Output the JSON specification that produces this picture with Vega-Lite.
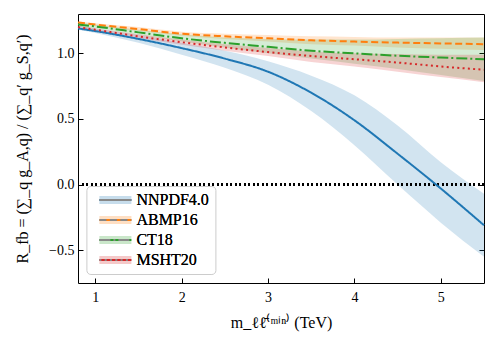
{
  "$schema": "https://vega.github.io/schema/vega-lite/v6.json",
  "width": 406,
  "height": 269,
  "autosize": {"type": "none"},
  "padding": {"left": 78, "top": 14, "right": 14, "bottom": 66},
  "config": {
    "font": "Liberation Serif, serif",
    "view": {"stroke": "black", "strokeWidth": 1},
    "axis": {
      "domain": false,
      "grid": false,
      "tickColor": "black",
      "tickSize": -5,
      "tickWidth": 1,
      "labelFont": "Liberation Serif, serif",
      "labelFontSize": 14,
      "labelColor": "black",
      "titleFont": "Liberation Serif, serif",
      "titleFontSize": 16,
      "titleFontWeight": "normal",
      "titleColor": "black"
    },
    "legend": {"labelFont": "Liberation Serif, serif", "labelFontWeight": "normal"}
  },
  "data": {
    "values": [
      {"pdf": "NNPDF4.0", "x": 0.8, "y": 1.19, "lo": 1.18, "hi": 1.21},
      {"pdf": "NNPDF4.0", "x": 1.0, "y": 1.17, "lo": 1.155, "hi": 1.19},
      {"pdf": "NNPDF4.0", "x": 1.5, "y": 1.11, "lo": 1.08, "hi": 1.14},
      {"pdf": "NNPDF4.0", "x": 2.0, "y": 1.04, "lo": 0.99, "hi": 1.08},
      {"pdf": "NNPDF4.0", "x": 2.5, "y": 0.96, "lo": 0.89, "hi": 1.02},
      {"pdf": "NNPDF4.0", "x": 3.0, "y": 0.86, "lo": 0.76, "hi": 0.94},
      {"pdf": "NNPDF4.0", "x": 3.5, "y": 0.70, "lo": 0.56, "hi": 0.83},
      {"pdf": "NNPDF4.0", "x": 4.0, "y": 0.49, "lo": 0.30, "hi": 0.68},
      {"pdf": "NNPDF4.0", "x": 4.5, "y": 0.235, "lo": 0.0, "hi": 0.45},
      {"pdf": "NNPDF4.0", "x": 5.0, "y": -0.03, "lo": -0.29, "hi": 0.17},
      {"pdf": "NNPDF4.0", "x": 5.5, "y": -0.31, "lo": -0.55, "hi": -0.07},
      {"pdf": "ABMP16", "x": 0.8, "y": 1.235, "lo": 1.225, "hi": 1.245},
      {"pdf": "ABMP16", "x": 1.0, "y": 1.22, "lo": 1.21, "hi": 1.23},
      {"pdf": "ABMP16", "x": 1.5, "y": 1.185, "lo": 1.17, "hi": 1.2},
      {"pdf": "ABMP16", "x": 2.0, "y": 1.15, "lo": 1.135, "hi": 1.165},
      {"pdf": "ABMP16", "x": 2.5, "y": 1.13, "lo": 1.11, "hi": 1.15},
      {"pdf": "ABMP16", "x": 3.0, "y": 1.115, "lo": 1.09, "hi": 1.14},
      {"pdf": "ABMP16", "x": 3.5, "y": 1.1, "lo": 1.07, "hi": 1.13},
      {"pdf": "ABMP16", "x": 4.0, "y": 1.09, "lo": 1.06, "hi": 1.125},
      {"pdf": "ABMP16", "x": 4.5, "y": 1.082, "lo": 1.045, "hi": 1.12},
      {"pdf": "ABMP16", "x": 5.0, "y": 1.076, "lo": 1.035, "hi": 1.12},
      {"pdf": "ABMP16", "x": 5.5, "y": 1.07, "lo": 1.025, "hi": 1.12},
      {"pdf": "CT18", "x": 0.8, "y": 1.22, "lo": 1.205, "hi": 1.235},
      {"pdf": "CT18", "x": 1.0, "y": 1.205, "lo": 1.19, "hi": 1.22},
      {"pdf": "CT18", "x": 1.5, "y": 1.16, "lo": 1.14, "hi": 1.18},
      {"pdf": "CT18", "x": 2.0, "y": 1.115, "lo": 1.09, "hi": 1.145},
      {"pdf": "CT18", "x": 2.5, "y": 1.08, "lo": 1.045, "hi": 1.12},
      {"pdf": "CT18", "x": 3.0, "y": 1.05, "lo": 1.0, "hi": 1.11},
      {"pdf": "CT18", "x": 3.5, "y": 1.02, "lo": 0.96, "hi": 1.105},
      {"pdf": "CT18", "x": 4.0, "y": 1.0, "lo": 0.92, "hi": 1.105},
      {"pdf": "CT18", "x": 4.5, "y": 0.982, "lo": 0.88, "hi": 1.11},
      {"pdf": "CT18", "x": 5.0, "y": 0.968, "lo": 0.835, "hi": 1.115},
      {"pdf": "CT18", "x": 5.5, "y": 0.955, "lo": 0.79, "hi": 1.12},
      {"pdf": "MSHT20", "x": 0.8, "y": 1.2, "lo": 1.19, "hi": 1.21},
      {"pdf": "MSHT20", "x": 1.0, "y": 1.18, "lo": 1.17, "hi": 1.19},
      {"pdf": "MSHT20", "x": 1.5, "y": 1.13, "lo": 1.115, "hi": 1.145},
      {"pdf": "MSHT20", "x": 2.0, "y": 1.085, "lo": 1.065, "hi": 1.105},
      {"pdf": "MSHT20", "x": 2.5, "y": 1.045, "lo": 1.02, "hi": 1.07},
      {"pdf": "MSHT20", "x": 3.0, "y": 1.01, "lo": 0.98, "hi": 1.04},
      {"pdf": "MSHT20", "x": 3.5, "y": 0.98, "lo": 0.935, "hi": 1.015},
      {"pdf": "MSHT20", "x": 4.0, "y": 0.955, "lo": 0.9, "hi": 1.0},
      {"pdf": "MSHT20", "x": 4.5, "y": 0.93, "lo": 0.86, "hi": 0.995},
      {"pdf": "MSHT20", "x": 5.0, "y": 0.9, "lo": 0.82, "hi": 0.99},
      {"pdf": "MSHT20", "x": 5.5, "y": 0.875, "lo": 0.78, "hi": 0.99}
    ]
  },
  "layer": [
    {
      "mark": {"type": "area", "opacity": 0.2, "interpolate": "monotone"},
      "encoding": {
        "x": {
          "field": "x", "type": "quantitative",
          "scale": {"domain": [0.8, 5.5], "nice": false, "zero": false},
          "axis": {"title": "m_ℓℓ̄⁽ᵐⁱⁿ⁾ (TeV)", "values": [1, 2, 3, 4, 5], "format": "d", "labelPadding": 12, "titlePadding": 10}
        },
        "y": {
          "field": "lo", "type": "quantitative",
          "scale": {"domain": [-0.75, 1.3], "nice": false, "zero": false},
          "axis": {"title": "R_fb = (∑_q g_A,q) / (∑_q′ g_S,q′)", "values": [-0.5, 0, 0.5, 1], "format": ".1f", "labelPadding": 9, "titlePadding": 18}
        },
        "y2": {"field": "hi"},
        "fill": {
          "field": "pdf", "type": "nominal",
          "scale": {"domain": ["NNPDF4.0", "ABMP16", "CT18", "MSHT20"], "range": ["#1f77b4", "#ff7f0e", "#2ca02c", "#d62728"]},
          "legend": {
            "title": null, "orient": "none", "legendX": 8.4, "legendY": 172,
            "symbolType": "M-3.2,-0.8H3.2V0.8H-3.2Z", "symbolSize": 100, "symbolOpacity": 0.25, "symbolStrokeWidth": 0,
            "symbolOffset": 15, "labelOffset": 13, "labelColor": "rgba(0,0,0,0)",
            "labelFontSize": 16, "rowPadding": 4, "padding": 6,
            "fillColor": "rgba(255,255,255,0.8)", "strokeColor": "#cccccc", "cornerRadius": 4
          }
        }
      }
    },
    {
      "mark": {"type": "rule", "color": "black", "strokeWidth": 1.5, "strokeDash": [1.5, 3]},
      "encoding": {"y": {"datum": 0, "axis": null}}
    },
    {
      "mark": {"type": "line", "strokeWidth": 2, "interpolate": "monotone"},
      "encoding": {
        "x": {"field": "x", "type": "quantitative"},
        "y": {"field": "y", "type": "quantitative", "axis": {"orient": "right", "labels": false, "title": null, "values": [-0.5, 0, 0.5, 1]}},
        "stroke": {
          "field": "pdf", "type": "nominal", "sort": ["NNPDF4.0", "ABMP16", "CT18", "MSHT20"],
          "scale": {"range": ["#1f77b4", "#ff7f0e", "#2ca02c", "#d62728"]},
          "legend": {
            "title": null, "orient": "none", "legendX": 8.4, "legendY": 172,
            "symbolType": "M-3.2,0H3.2", "symbolSize": 100, "symbolStrokeWidth": 2, "symbolFillColor": "transparent",
            "symbolOffset": 15, "labelOffset": 13,
            "labelFontSize": 16, "labelColor": "black", "rowPadding": 4, "padding": 6
          }
        },
        "strokeDash": {
          "field": "pdf", "type": "nominal", "sort": ["NNPDF4.0", "ABMP16", "CT18", "MSHT20"],
          "scale": {"range": [[1, 0], [7, 3.5], [11, 3, 2, 3], [2, 3.3]]},
          "legend": {
            "title": null, "orient": "none", "legendX": 8.4, "legendY": 172,
            "symbolType": "M-3.2,0H3.2", "symbolSize": 100, "symbolStrokeWidth": 2, "symbolFillColor": "transparent",
            "symbolOffset": 15, "labelOffset": 13,
            "labelFontSize": 16, "labelColor": "black", "rowPadding": 4, "padding": 6
          }
        }
      }
    }
  ],
  "resolve": {"axis": {"y": "independent"}}
}
